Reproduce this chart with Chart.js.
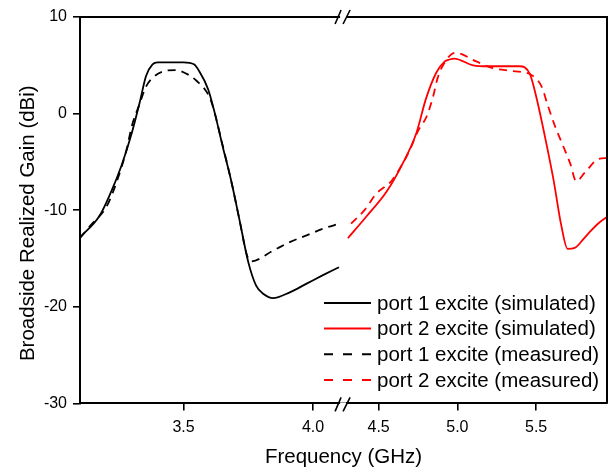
<!DOCTYPE html>
<html>
<head>
<meta charset="utf-8">
<title>Broadside Realized Gain</title>
<script src="https://cdn.jsdelivr.net/npm/chart.js@4.4.1/dist/chart.umd.min.js"></script>
<style>
  html, body { margin: 0; padding: 0; background: #fff; }
  canvas { display: block; }
</style>
</head>
<body>
<canvas id="gain-chart" width="614" height="472"></canvas>
<script>
// Port 1 excite, simulated (lower band)
const sim1Freq = [3.10, 3.175, 3.22, 3.26, 3.30, 3.33, 3.355, 3.38, 3.40, 3.45, 3.50, 3.54, 3.56, 3.595, 3.62, 3.65, 3.685, 3.715, 3.75, 3.78, 3.81, 3.845, 3.91, 3.975, 4.04, 4.10];
const sim1Gain = [-12.8, -10.6, -8.1, -5.4, -2.0, 1.1, 3.9, 5.1, 5.3, 5.3, 5.3, 5.1, 4.4, 2.5, 0.1, -3.3, -7.1, -10.9, -15.4, -17.8, -18.7, -19.1, -18.5, -17.6, -16.7, -15.9];

// Port 2 excite, simulated (upper band)
const sim2Freq = [4.305, 4.42, 4.55, 4.655, 4.74, 4.80, 4.865, 4.92, 4.95, 4.98, 5.10, 5.20, 5.30, 5.395, 5.46, 5.50, 5.555, 5.61, 5.66, 5.70, 5.745, 5.80, 5.85, 5.90, 5.95];
const sim2Gain = [-12.9, -10.7, -8.1, -5.1, -2.0, 1.5, 4.2, 5.4, 5.6, 5.7, 5.0, 4.9, 4.9, 4.9, 4.1, 1.8, -2.3, -6.8, -11.6, -14.0, -13.9, -13.0, -12.1, -11.3, -10.7];

// Port 1 excite, measured
const meas1Freq = [3.10, 3.14, 3.205, 3.245, 3.28, 3.30, 3.33, 3.355, 3.38, 3.425, 3.47, 3.52, 3.55, 3.59, 3.61, 3.65, 3.685, 3.715, 3.745, 3.76, 3.845, 3.91, 3.975, 4.04, 4.10];
const meas1Gain = [-12.9, -11.6, -9.5, -6.8, -3.7, -1.3, 1.0, 2.8, 3.7, 4.4, 4.5, 4.0, 3.4, 2.2, 1.0, -3.2, -7.1, -10.9, -14.7, -15.3, -14.2, -13.3, -12.6, -11.9, -11.4];

// Port 2 excite, measured
const meas2Freq = [4.325, 4.41, 4.485, 4.58, 4.645, 4.70, 4.75, 4.805, 4.845, 4.875, 4.92, 4.985, 5.12, 5.225, 5.355, 5.47, 5.535, 5.575, 5.62, 5.67, 5.715, 5.755, 5.81, 5.895, 5.95];
const meas2Gain = [-11.4, -10.0, -8.3, -7.0, -5.4, -3.7, -1.8, -0.3, 1.7, 3.7, 5.3, 6.3, 5.4, 4.7, 4.4, 4.0, 2.8, 0.8, -1.3, -3.3, -5.1, -7.0, -6.1, -4.7, -4.6];

// Broken frequency axis: two segments side by side
const lowBand = [3.1, 4.11];
const highBand = [4.265, 5.95];
const lowTicks = [3.5, 4.0];
const highTicks = [4.5, 5.0, 5.5];
const gainTicks = [-30, -20, -10, 0, 10];

const seriesLabels = [
  'port 1 excite (simulated)',
  'port 2 excite (simulated)',
  'port 1 excite (measured)',
  'port 2 excite (measured)'
];

const FONT = '"Liberation Sans", Arial, sans-serif';
const PX_PER_GHZ_LOW = 258.8;
const PX_PER_GHZ_HIGH = 157.4;

function toPoints(xs, ys) {
  return xs.map((x, i) => ({ x: x, y: ys[i] }));
}

function lineSet(label, xs, ys, color, dashed, axis) {
  return {
    label: label,
    data: toPoints(xs, ys),
    xAxisID: axis,
    yAxisID: 'y',
    borderColor: color,
    backgroundColor: color,
    borderWidth: 1.8,
    borderDash: dashed ? [8, 6] : [],
    pointRadius: 0,
    cubicInterpolationMode: 'monotone',
    fill: false
  };
}

function bandAxis(range, ticks, weight) {
  return {
    type: 'linear',
    position: 'bottom',
    stack: 'freq',
    stackWeight: weight,
    min: range[0],
    max: range[1],
    afterBuildTicks: function(scale) {
      scale.ticks = ticks.map(v => ({ value: v }));
    },
    afterFit: function(scale) {
      scale.height = 36;
    },
    border: { display: true, color: '#000', width: 2 },
    grid: { drawOnChartArea: false, drawTicks: true, tickLength: 7, color: '#000', lineWidth: 1.6 },
    ticks: {
      color: '#000',
      padding: 8,
      maxRotation: 0,
      font: { family: FONT, size: 16 },
      callback: v => Number(v).toFixed(1)
    }
  };
}

// Top/right frame, axis break marks, y title and in-plot legend
const framePlugin = {
  id: 'frame',
  afterDraw: function(chart) {
    const ctx = chart.ctx;
    const a = chart.chartArea;

    ctx.save();
    ctx.strokeStyle = '#000';
    ctx.lineWidth = 2;
    ctx.beginPath();
    ctx.moveTo(a.left, a.top);
    ctx.lineTo(a.right, a.top);
    ctx.lineTo(a.right, a.bottom);
    ctx.stroke();

    const bx = chart.scales.xL.right + 1.5;
    [a.top, a.bottom + 1].forEach(y => {
      ctx.fillStyle = '#fff';
      ctx.fillRect(bx - 3, y - 2, 6, 4);
      ctx.lineWidth = 1.6;
      ctx.beginPath();
      ctx.moveTo(bx - 8, y + 7);
      ctx.lineTo(bx - 2, y - 7);
      ctx.moveTo(bx, y + 7);
      ctx.lineTo(bx + 7, y - 7);
      ctx.stroke();
    });
    ctx.restore();

    // y axis title
    ctx.save();
    ctx.translate(28, (a.top + a.bottom) / 2 + 13);
    ctx.rotate(-Math.PI / 2);
    ctx.font = '20.5px ' + FONT;
    ctx.fillStyle = '#000';
    ctx.textAlign = 'center';
    ctx.textBaseline = 'middle';
    ctx.fillText('Broadside Realized Gain (dBi)', 0, 0);
    ctx.restore();

    // legend
    ctx.save();
    ctx.font = '20.5px ' + FONT;
    ctx.textAlign = 'left';
    ctx.textBaseline = 'middle';
    const textX = a.right - 230;
    chart.data.datasets.forEach((ds, i) => {
      const y = a.bottom - 100.5 + i * 25.7;
      ctx.strokeStyle = ds.borderColor;
      ctx.lineWidth = 2;
      ctx.setLineDash(ds.borderDash.length ? [9, 10] : []);
      ctx.beginPath();
      ctx.moveTo(textX - 53, y);
      ctx.lineTo(textX - 6, y);
      ctx.stroke();
      ctx.setLineDash([]);
      ctx.fillStyle = '#000';
      ctx.fillText(ds.label, textX, y + 1);
    });
    ctx.restore();
  }
};

const chart = new Chart(document.getElementById('gain-chart'), {
  type: 'line',
  data: {
    datasets: [
      lineSet(seriesLabels[0], sim1Freq, sim1Gain, '#000000', false, 'xL'),
      lineSet(seriesLabels[1], sim2Freq, sim2Gain, '#ff0000', false, 'xR'),
      lineSet(seriesLabels[2], meas1Freq, meas1Gain, '#000000', true, 'xL'),
      lineSet(seriesLabels[3], meas2Freq, meas2Gain, '#ff0000', true, 'xR')
    ]
  },
  options: {
    responsive: false,
    animation: false,
    devicePixelRatio: 1,
    layout: { padding: { left: 0, top: 17, right: 7, bottom: 2 } },
    plugins: {
      legend: { display: false },
      tooltip: { enabled: false },
      title: {
        display: true,
        position: 'bottom',
        fullSize: false,
        text: 'Frequency (GHz)',
        color: '#000',
        font: { family: FONT, size: 20.5, weight: 'normal' },
        padding: { top: 6, bottom: 0 }
      }
    },
    scales: {
      xL: bandAxis(lowBand, lowTicks, (lowBand[1] - lowBand[0]) * PX_PER_GHZ_LOW),
      xR: bandAxis(highBand, highTicks, (highBand[1] - highBand[0]) * PX_PER_GHZ_HIGH),
      y: {
        type: 'linear',
        position: 'left',
        min: -30,
        max: 10,
        afterBuildTicks: function(scale) {
          scale.ticks = gainTicks.map(v => ({ value: v }));
        },
        afterFit: function(scale) {
          scale.width = 80;
        },
        border: { display: true, color: '#000', width: 2 },
        grid: { drawOnChartArea: false, drawTicks: true, tickLength: 7, color: '#000', lineWidth: 1.6 },
        ticks: {
          color: '#000',
          padding: 6,
          font: { family: FONT, size: 16 },
          callback: v => String(v)
        }
      }
    }
  },
  plugins: [framePlugin]
});
</script>
</body>
</html>
